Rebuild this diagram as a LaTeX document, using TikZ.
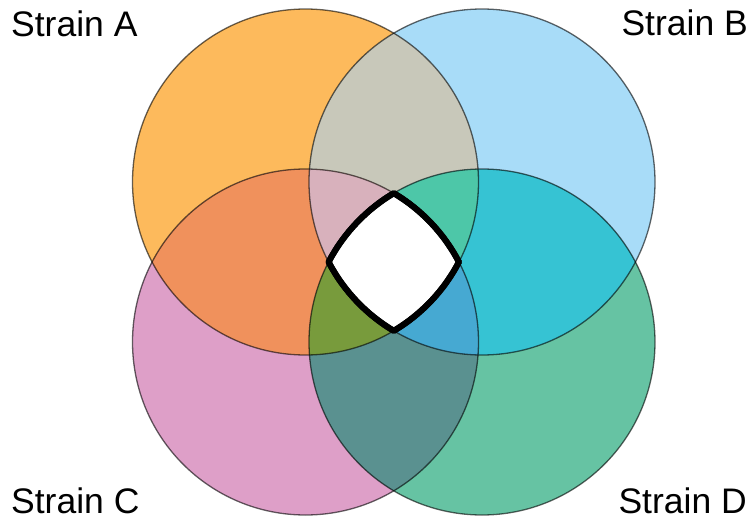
\documentclass[tikz,border=0pt]{standalone}
\usepackage{fontspec}
\setmainfont{Liberation Sans}
\definecolor{colA}{RGB}{253,186,92}
\definecolor{colB}{RGB}{168,220,248}
\definecolor{colC}{RGB}{222,159,200}
\definecolor{colD}{RGB}{102,195,163}
\definecolor{colAB}{RGB}{200,200,186}
\definecolor{colAC}{RGB}{240,145,92}
\definecolor{colBD}{RGB}{54,195,211}
\definecolor{colCD}{RGB}{90,145,144}
\definecolor{colABC}{RGB}{216,177,188}
\definecolor{colABD}{RGB}{77,199,168}
\definecolor{colACD}{RGB}{120,155,60}
\definecolor{colBCD}{RGB}{70,169,210}
\tikzset{
  ring/.style={draw=black, draw opacity=0.6, line width=1.3pt},
  coreline/.style={draw=black, line width=6pt, line join=round},
  strainlabel/.style={inner sep=0pt, font=\fontsize{35.5}{40}\selectfont}
}
\begin{document}
\begin{tikzpicture}[x=1pt,y=-1pt]
\useasboundingbox (0,0) rectangle (753,522);
\fill[white] (0,0) rectangle (753,522);
\def\cA{(305.5,182) circle (173)}
\def\cB{(482,182) circle (173)}
\def\cC{(305.5,342) circle (173)}
\def\cD{(482,342) circle (173)}
% single sets
\fill[colA] \cA;
\fill[colB] \cB;
\fill[colC] \cC;
\fill[colD] \cD;
% pairs
\begin{scope}\clip \cA; \fill[colAB] \cB; \fill[colAC] \cC; \end{scope}
\begin{scope}\clip \cD; \fill[colBD] \cB; \fill[colCD] \cC; \end{scope}
% triples
\begin{scope}\clip \cA; \clip \cB; \fill[colABC] \cC; \fill[colABD] \cD; \end{scope}
\begin{scope}\clip \cC; \clip \cD; \fill[colACD] \cA; \fill[colBCD] \cB; \end{scope}
% all four
\coordinate (L) at (328.61,262);
\path[fill=white, coreline] (L)
  arc[start angle=207.54, end angle=239.33, radius=173]
  arc[start angle=300.67, end angle=332.46, radius=173]
  arc[start angle=27.54, end angle=59.33, radius=173]
  arc[start angle=120.67, end angle=152.46, radius=173] -- cycle;
% outlines
\node[circle, minimum size=346pt, ring, inner sep=0pt] (A) at (305.5,182) {};
\node[circle, minimum size=346pt, ring, inner sep=0pt] (B) at (482,182) {};
\node[circle, minimum size=346pt, ring, inner sep=0pt] (C) at (305.5,342) {};
\node[circle, minimum size=346pt, ring, inner sep=0pt] (D) at (482,342) {};
\path[coreline] (L)
  arc[start angle=207.54, end angle=239.33, radius=173]
  arc[start angle=300.67, end angle=332.46, radius=173]
  arc[start angle=27.54, end angle=59.33, radius=173]
  arc[start angle=120.67, end angle=152.46, radius=173] -- cycle;
% labels
\node[strainlabel, anchor=base west] (la) at (11,36) {Strain A};
\node[strainlabel, anchor=base east] (lb) at (748,35) {Strain B};
\node[strainlabel, anchor=base west] (lc) at (11,513) {Strain C};
\node[strainlabel, anchor=base east] (ld) at (747,513) {Strain D};
\end{tikzpicture}
\end{document}
